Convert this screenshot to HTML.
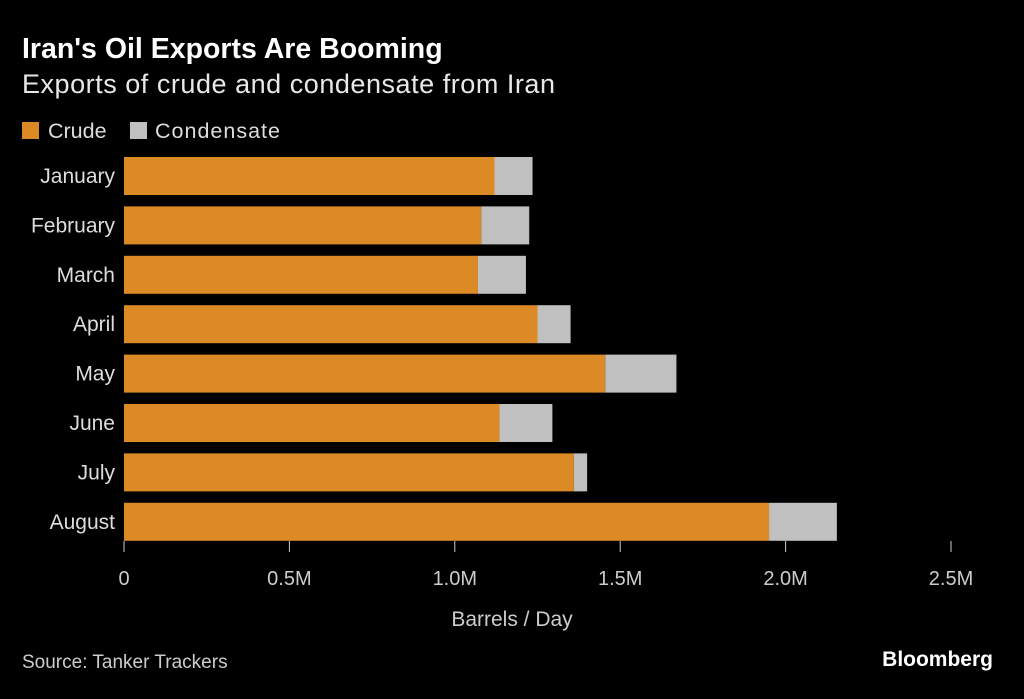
<!DOCTYPE html>
<html><head><meta charset="utf-8"><style>
body{margin:0;background:#000;width:1024px;height:694px;overflow:hidden;font-family:"Liberation Sans",sans-serif;color:#ddd}
</style></head><body>
<svg width="1024" height="694" xmlns="http://www.w3.org/2000/svg" style="font-family:'Liberation Sans',sans-serif">
<text x="22" y="58" font-size="28.5" font-weight="bold" fill="#fff">Iran's Oil Exports Are Booming</text>
<text x="22" y="93" font-size="27" fill="#e8e8e8" textLength="533">Exports of crude and condensate from Iran</text>
<g>
<rect x="22" y="122" width="17" height="17" fill="#dc8a25"/>
<text x="48" y="138" font-size="21.5" fill="#ddd">Crude</text>
<rect x="130" y="122" width="17" height="17" fill="#c0c0c0"/>
<text x="155" y="138" font-size="21.5" fill="#ddd" textLength="125">Condensate</text>
</g>
<g id="bars"></g>
<g id="axis"></g>
<text x="512" y="626" font-size="21" fill="#ccc" text-anchor="middle">Barrels / Day</text>
<text x="22" y="668" font-size="19" fill="#ccc">Source: Tanker Trackers</text>
<text x="993" y="666" font-size="21" font-weight="bold" fill="#fff" text-anchor="end">Bloomberg</text>
</svg>
<script>
const months=["January","February","March","April","May","June","July","August"];
const crude=[1.12,1.08,1.07,1.25,1.455,1.135,1.36,1.95];
const condensate=[0.115,0.145,0.145,0.10,0.215,0.16,0.04,0.205];
const ticks=[0,0.5,1.0,1.5,2.0,2.5];
const tickLabels=["0","0.5M","1.0M","1.5M","2.0M","2.5M"];
const NS="http://www.w3.org/2000/svg";
const x0=124,pxPerM=330.8;
const xs=v=>x0+v*pxPerM;
const yTop=157,pitch=49.4,bh=38;
const ys=i=>yTop+i*pitch;
const bars=document.getElementById('bars'),axis=document.getElementById('axis');
function mk(tag,attrs,parent){const e=document.createElementNS(NS,tag);for(const k in attrs)e.setAttribute(k,attrs[k]);parent.appendChild(e);return e;}
months.forEach((m,i)=>{
  const y=ys(i);
  const r1=mk('rect',{x:xs(0),y:y,width:xs(crude[i])-xs(0),height:bh,fill:'#dc8a25'},bars);
  
  
  const r2=mk('rect',{x:xs(crude[i]),y:y,width:xs(crude[i]+condensate[i])-xs(crude[i]),height:bh,fill:'#c0c0c0'},bars);
  
  
  const t=mk('text',{x:115,y:y+bh/2+7,'font-size':21,fill:'#ddd','text-anchor':'end'},bars);
  t.textContent=m;
  
  
});
ticks.forEach((v,i)=>{
  const l=mk('line',{x1:xs(v),x2:xs(v),y1:541,y2:552,stroke:'#ccc','stroke-width':1},axis);
  
  
  const t=mk('text',{x:xs(v),y:585,'font-size':20,fill:'#ccc','text-anchor':'middle'},axis);
  t.textContent=tickLabels[i];
  
  
});
</script>
</body></html>
